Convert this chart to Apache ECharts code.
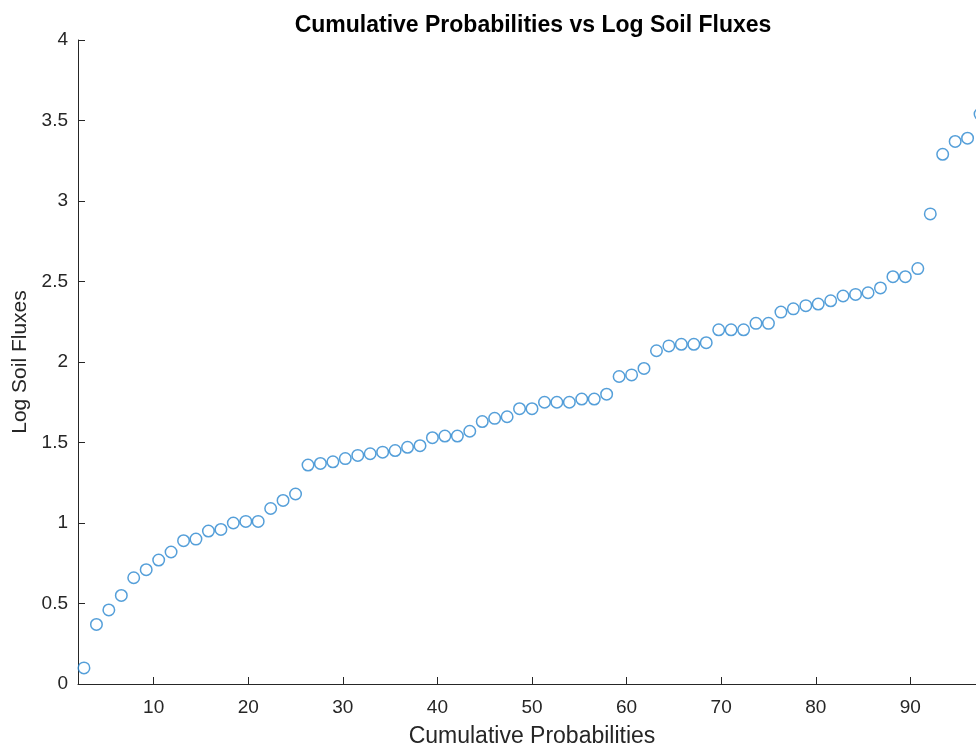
<!DOCTYPE html>
<html>
<head>
<meta charset="utf-8">
<script src="https://cdn.jsdelivr.net/npm/echarts@6/dist/echarts.min.js"></script>
<style>
  html, body { margin: 0; padding: 0; overflow: hidden; background: #fff; }
  #main { width: 986px; height: 747px; }
</style>
</head>
<body>
<div id="main"></div>
<script>
// cumulative probabilities (x) and log soil fluxes (y)
let probs = [2.63, 3.95, 5.26, 6.58, 7.89, 9.21, 10.53, 11.84, 13.16, 14.47,
  15.79, 17.11, 18.42, 19.74, 21.05, 22.37, 23.68, 25.00, 26.32, 27.63,
  28.95, 30.26, 31.58, 32.89, 34.21, 35.53, 36.84, 38.16, 39.47, 40.79,
  42.11, 43.42, 44.74, 46.05, 47.37, 48.68, 50.00, 51.32, 52.63, 53.95,
  55.26, 56.58, 57.89, 59.21, 60.53, 61.84, 63.16, 64.47, 65.79, 67.11,
  68.42, 69.74, 71.05, 72.37, 73.68, 75.00, 76.32, 77.63, 78.95, 80.26,
  81.58, 82.89, 84.21, 85.53, 86.84, 88.16, 89.47, 90.79, 92.11, 93.42,
  94.74, 96.05, 97.37]
let logFlux = [0.10, 0.37, 0.46, 0.55, 0.66, 0.71, 0.77, 0.82, 0.89, 0.90,
  0.95, 0.96, 1.00, 1.01, 1.01, 1.09, 1.14, 1.18, 1.36, 1.37,
  1.38, 1.40, 1.42, 1.43, 1.44, 1.45, 1.47, 1.48, 1.53, 1.54,
  1.54, 1.57, 1.63, 1.65, 1.66, 1.71, 1.71, 1.75, 1.75, 1.75,
  1.77, 1.77, 1.80, 1.91, 1.92, 1.96, 2.07, 2.10, 2.11, 2.11,
  2.12, 2.20, 2.20, 2.20, 2.24, 2.24, 2.31, 2.33, 2.35, 2.36,
  2.38, 2.41, 2.42, 2.43, 2.46, 2.53, 2.53, 2.58, 2.92, 3.29,
  3.37, 3.39, 3.54]
let xTicks = [10, 20, 30, 40, 50, 60, 70, 80, 90]

let axisColor = '#262626'
let font = 'Liberation Sans, Arial, Helvetica, sans-serif'

let myChart = echarts.init(document.getElementById('main'))

let points = probs.map((p, i) => [p, logFlux[i]])

let option = {
  animation: false,
  title: {
    text: 'Cumulative Probabilities vs Log Soil Fluxes',
    left: 528,
    top: 9,
    textAlign: 'center',
    textStyle: { fontFamily: font, fontSize: 23, fontWeight: 'bold', color: '#000' }
  },
  grid: { left: 78, right: 0, top: 40, bottom: 63, outerBoundsMode: 'none', containLabel: false },
  xAxis: {
    type: 'value',
    min: 2,
    max: 98,
    name: 'Cumulative Probabilities',
    nameLocation: 'middle',
    nameGap: 41,
    nameTextStyle: { fontFamily: font, fontSize: 23, color: axisColor },
    axisLine: { lineStyle: { color: axisColor, width: 1 } },
    axisTick: { inside: true, length: 7, customValues: xTicks, lineStyle: { color: axisColor } },
    axisLabel: { customValues: xTicks, margin: 14, fontFamily: font, fontSize: 19, color: axisColor },
    splitLine: { show: false }
  },
  yAxis: {
    type: 'value',
    min: 0,
    max: 4,
    interval: 0.5,
    name: 'Log Soil Fluxes',
    nameLocation: 'middle',
    nameGap: 42,
    nameTextStyle: { fontFamily: font, fontSize: 21, color: axisColor },
    axisLine: { show: true, lineStyle: { color: axisColor, width: 1 } },
    axisTick: { show: true, inside: true, length: 7, lineStyle: { color: axisColor } },
    axisLabel: { margin: 10, fontFamily: font, fontSize: 19, color: axisColor },
    splitLine: { show: false }
  },
  series: [{
    type: 'scatter',
    data: points,
    symbol: 'circle',
    symbolSize: 11.5,
    itemStyle: { color: 'rgba(0,0,0,0)', borderColor: '#2b87cf', borderWidth: 1.5 }
  }]
}

myChart.setOption(option)
</script>
</body>
</html>
